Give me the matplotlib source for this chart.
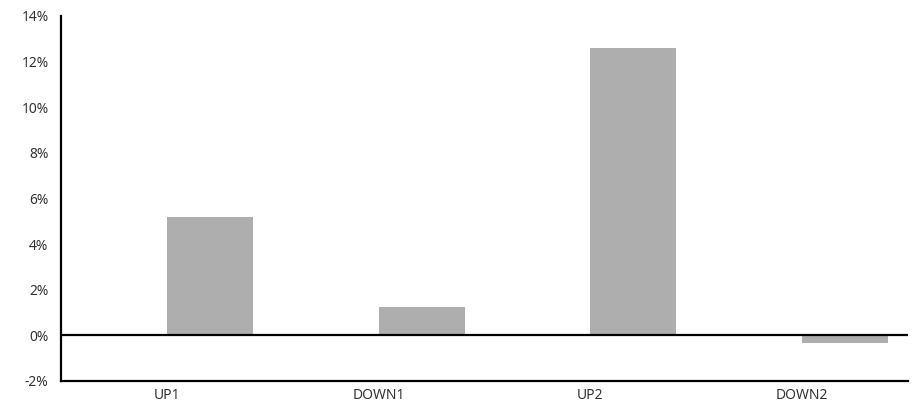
import matplotlib.pyplot as plt
from matplotlib.ticker import FuncFormatter

categories = ['UP1', 'DOWN1', 'UP2', 'DOWN2']
values = [5.2, 1.25, 12.6, -0.35]

plt.rcParams['font.family'] = ['Noto Sans', 'DejaVu Sans']

fig = plt.figure(figsize=(9.13, 4.09), dpi=100)
ax = fig.add_axes([0.0668, 0.0685, 0.9277, 0.8925])

x = list(range(len(categories)))
ax.bar(x, values, width=0.406, align='edge', color='#adaead', zorder=2)
ax.axhline(0, color='black', lw=1.6, zorder=3)

ax.set_xlim(-0.5, 3.5)
ax.set_ylim(-2, 14)
ax.set_yticks(range(-2, 15, 2))
ax.yaxis.set_major_formatter(FuncFormatter(lambda v, p: f'{v:.0f}%'))
ax.set_xticks(x)
ax.set_xticklabels(categories)
ax.tick_params(length=0, labelsize=10, colors='#333333', pad=5)
ax.tick_params(axis='y', pad=9)

for s in ['top', 'right']:
    ax.spines[s].set_visible(False)
for s in ['left', 'bottom']:
    ax.spines[s].set_linewidth(1.6)
    ax.spines[s].set_color('black')

fig.savefig('out.png', dpi=100)
